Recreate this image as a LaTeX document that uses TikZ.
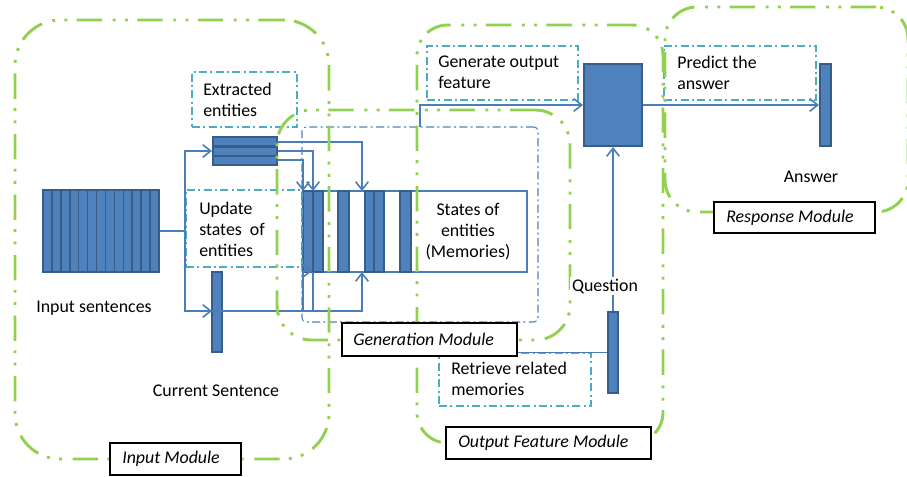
\documentclass[tikz,border=0pt]{standalone}
\usepackage{fontspec}
\setmainfont{Carlito}
\usetikzlibrary{arrows.meta,fit}
\definecolor{gr}{HTML}{92D050}
\definecolor{bfill}{HTML}{4F81BD}
\definecolor{bdark}{HTML}{385D8A}
\definecolor{cy}{HTML}{4BACC6}
\definecolor{ln}{HTML}{4A7EBB}
\begin{document}
\begin{tikzpicture}[x=0.75pt,y=-0.75pt,
  txt/.style={font=\fontsize{13.4}{15.8}\selectfont, inner sep=0pt, align=left},
  itx/.style={font=\fontsize{13.4}{15.8}\selectfont\itshape, inner sep=0pt, anchor=west},
  blk/.style={fill=bfill, draw=bdark, line width=1.5pt, inner sep=0pt},
  cbox/.style={draw=cy, line width=0.9pt, dash pattern=on 6pt off 2.5pt on 1.5pt off 2.5pt, inner sep=0pt},
  mod/.style={draw=gr, line width=2.2pt, dash pattern=on 19pt off 7pt on 2.2pt off 7pt on 2.2pt off 8pt, inner sep=0pt},
  lab/.style={draw=black, line width=0.8pt, fill=white, inner sep=0pt},
  conn/.style={draw=ln, line width=1.2pt},
  arr/.style={conn, -{Straight Barb[length=6pt,width=9.5pt,line width=1.2pt]}},
]
\useasboundingbox (0,0) rectangle (907,476);

% ---------- blocks ----------
\node[blk, fit={(43,190) (159,272)}] (inp) {};
\foreach \i in {1,...,12} \draw[bdark, line width=1.2pt] ({43+\i*116/13},190) -- ({43+\i*116/13},272);
\node[blk, fit={(213,137) (277,165)}] (ext) {};
\draw[bdark, line width=1.8pt] (213,146.3) -- (277,146.3) (213,155.7) -- (277,155.7);
\node[blk, fit={(212,272) (222,352)}] (cur) {};
\node[draw=ln, line width=1.2pt, inner sep=0pt, fit={(303,191) (527,272)}] (mem) {};
\foreach \a/\b in {303/313,313/323,338/349,365/374,374/384,400/411} \draw[blk] (\a,191) rectangle (\b,272);
\node[txt, align=center] (memt) at (468,232) {States of\\entities\\(Memories)};
\node[blk, fit={(584,64) (642,146)}] (of) {};
\node[blk, fit={(820,64) (831,146)}] (ans) {};
\node[blk, fit={(608,312) (618,393)}] (q) {};

% ---------- dash-dot boxes ----------
\node[cbox, fit={(192,72) (297,127)}] (extbox) {};
\node[txt, anchor=west] (extt) at (203,99.5) {Extracted\\entities};
\node[cbox, fit={(186,190) (302,267)}] (updbox) {};
\node[txt, anchor=west] (updt) at (199,229) {Update\\states~ of\\entities};
\node[cbox, fit={(427,46) (578,100)}] (genbox) {};
\node[txt, anchor=west] (gent) at (438,72.5) {Generate output\\feature};
\node[cbox, fit={(664,46) (816,100)}] (prbox) {};
\node[txt, anchor=west] (prt) at (677,72.5) {Predict the\\answer};
\node[cbox, fit={(439,353) (591,406)}] (retbox) {};
\node[txt, anchor=west] (rett) at (451,379) {Retrieve related\\memories};
\node[draw=bfill, line width=0.8pt, dash pattern=on 6pt off 2.5pt on 1.5pt off 2.5pt, rounded corners=3pt, inner sep=0pt, fit={(302,127) (538,322)}] (genin) {};

% ---------- plain labels ----------
\node[txt] (inpl) at (94,308) {Input sentences};
\node[txt] (curl) at (216,391) {Current Sentence};
\node[txt] (ansl) at (811,177) {Answer};

% ---------- connectors ----------
\coordinate (j) at (185,231);
\coordinate (cb) at (212,311);
\coordinate (m1) at (362,272);
\coordinate (m0) at (303,311);
\coordinate (m0e) at (312,271);
\coordinate (m2) at (313,311);
\coordinate (m2e) at (313,272);
\draw[conn] (inp.east) -- (j);
\draw[arr] (j) |- (ext.west);
\draw[arr] (j) |- (cb);
\draw[arr] (cb) -| (m1);
\draw[arr] (m0) |- (m0e);
\draw[conn] (m2) -- (m2e);
\coordinate (e1) at (277,142);
\coordinate (e3) at (277,160);
\coordinate (t1) at (362,191);
\coordinate (t2) at (313,191);
\coordinate (t3) at (303,191);
\draw[arr] (e1) -| (t1);
\draw[arr] (ext.east) -| (t2);
\draw[arr] (e3) -| (t3);
\coordinate (g0) at (420,127);
\draw[arr] (g0) |- (of.west);
\draw[arr] (of.east) -- (ans.west);
\draw[arr] (q.north) -- (of.south);
\coordinate (r0) at (500,352.5);
\draw[conn] (q.west) -- (r0);

% ---------- module outlines ----------
\node[mod, rounded corners=34pt, fit={(15,20) (329,459)}] (inmod) {};
\node[mod, rounded corners=26pt, fit={(277,110) (570,340)}] (genmod) {};
\node[mod, rounded corners=23pt, fit={(417,25) (663,443)}] (outmod) {};
\node[mod, rounded corners=24pt, fit={(665,7) (908,212)}] (resmod) {};

% ---------- module labels ----------
\node[lab, fit={(110,443) (241,475)}] (inlab) {};
\node[itx] (inlabt) at (122,459) {Input Module};
\node[lab, fit={(342,323) (517,356)}] (genlab) {};
\node[itx] (genlabt) at (353,339.5) {Generation Module};
\node[lab, fit={(714,202) (875,233)}] (reslab) {};
\node[itx] (reslabt) at (726,217.5) {Response Module};
\node[lab, fit={(446,427) (651,459)}] (outlab) {};
\node[itx] (outlabt) at (458,443) {Output Feature Module};

\node[txt, fill=white, inner sep=1.5pt] (ql) at (605,286) {Question};
\end{tikzpicture}
\end{document}
